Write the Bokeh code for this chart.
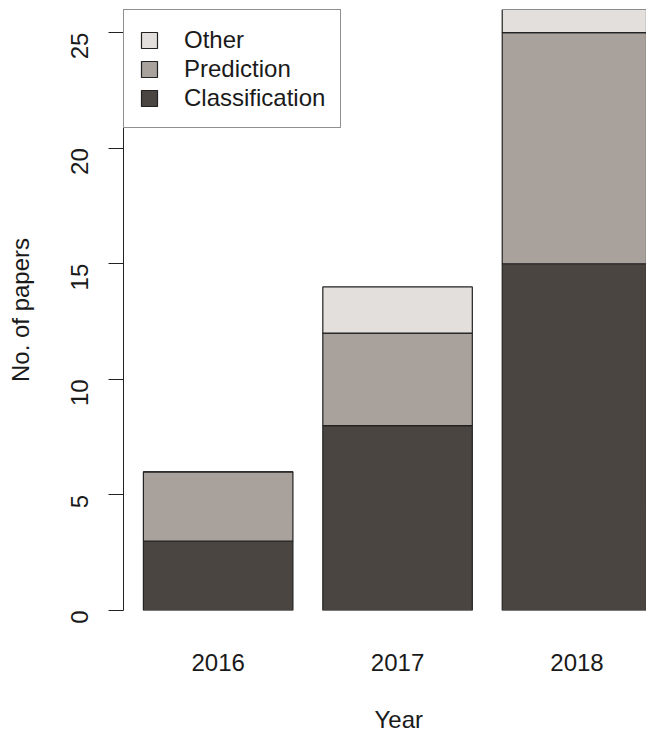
import math
from bokeh.plotting import figure
from bokeh.models import (Range1d, FixedTicker, Legend, LegendItem, Title, LinearAxis,
                          ColumnDataSource)
from bokeh.embed import file_html
from bokeh.resources import INLINE

years = ["2016", "2017", "2018"]
classification = [3, 8, 15]
prediction = [3, 4, 10]
other = [0, 2, 1]
y_ticks = [0, 5, 10, 15, 20, 25]

# R barplot layout: width 1, space 0.2
bar_width = 1.0
space = 0.2
x_centers = [space * (i + 1) + bar_width * i + bar_width / 2 for i in range(len(years))]

src = ColumnDataSource(dict(x=x_centers, Classification=classification,
                            Prediction=prediction, Other=other))

FONT = "Liberation Sans"
FS = "24px"
TXT = "#1a1a1a"

p = figure(width=646, height=735, output_backend="svg", toolbar_location=None,
           x_range=Range1d(0.0669, 3.565), y_range=Range1d(0, 26),
           min_border_left=123, min_border_right=0, min_border_top=9, min_border_bottom=125)
p.outline_line_color = None
p.xgrid.visible = False
p.ygrid.visible = False
p.background_fill_color = "white"

colors = ["#4a4541", "#a8a19c", "#e3dfdc"]
rs = p.vbar_stack(["Classification", "Prediction", "Other"], x="x", width=bar_width,
                  source=src, fill_color=colors, line_color="#222222", line_width=1.2)

# y axis
p.yaxis.ticker = FixedTicker(ticks=y_ticks)
p.yaxis.bounds = (y_ticks[0], y_ticks[-1])
p.yaxis.major_label_orientation = math.pi / 2
p.yaxis.major_tick_out = 15
p.yaxis.major_tick_in = 0
p.yaxis.minor_tick_out = 0
p.yaxis.minor_tick_in = 0
p.yaxis.axis_line_color = "#222222"
p.yaxis.major_tick_line_color = "#222222"
p.yaxis.major_label_text_font = FONT
p.yaxis.major_label_text_font_size = FS
p.yaxis.major_label_text_color = TXT
p.yaxis.major_label_standoff = 29
p.yaxis.axis_label = "No. of papers"
p.yaxis.axis_label_text_font = FONT
p.yaxis.axis_label_text_font_size = FS
p.yaxis.axis_label_text_font_style = "normal"
p.yaxis.axis_label_text_color = TXT
p.yaxis.axis_label_standoff = 26

# x axis: labels only
p.xaxis.ticker = FixedTicker(ticks=x_centers)
p.xaxis.major_label_overrides = {x: y for x, y in zip(x_centers, years)}
p.xaxis.axis_line_color = None
p.xaxis.major_tick_line_color = None
p.xaxis.minor_tick_line_color = None
p.xaxis.major_label_text_font = FONT
p.xaxis.major_label_text_font_size = FS
p.xaxis.major_label_text_color = TXT
p.xaxis.major_label_standoff = 37

# invisible spacer between the year labels and the axis title (white tick on white)
spacer = LinearAxis(ticker=FixedTicker(ticks=[x_centers[0]]), axis_line_color=None,
                    major_tick_line_color="white", minor_tick_line_color=None,
                    major_tick_out=31, major_tick_in=0, minor_tick_out=0, minor_tick_in=0,
                    major_label_standoff=0, major_label_overrides={x_centers[0]: ""},
                    major_label_text_font_size="1px")
p.add_layout(spacer, "below")

# x axis title, centred on the whole bar group (R plot region)
p.add_layout(Title(text="Year", align="left", offset=251, vertical_align="middle",
                   text_font=FONT, text_font_size=FS, text_font_style="normal",
                   text_color=TXT, standoff=0), "below")

legend = Legend(items=[LegendItem(label="Other", renderers=[rs[2]]),
                       LegendItem(label="Prediction", renderers=[rs[1]]),
                       LegendItem(label="Classification", renderers=[rs[0]])],
                location="top_left", margin=0, padding=15, spacing=0,
                glyph_width=20, glyph_height=20, label_height=29, label_standoff=25,
                label_text_font=FONT, label_text_font_size=FS, label_text_color=TXT,
                border_line_color="#222222", border_line_width=1.2,
                background_fill_color="white", background_fill_alpha=1.0)
p.add_layout(legend)

open("out.html", "w").write(file_html(p, INLINE))
